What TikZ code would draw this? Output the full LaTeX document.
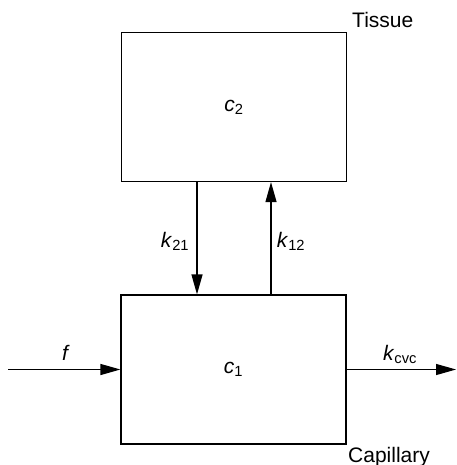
\documentclass[tikz,border=0pt]{standalone}
\usepackage{fontspec}
\setmainfont{Liberation Sans}
\usetikzlibrary{arrows.meta}
\begin{document}
\begin{tikzpicture}[x=1pt,y=-1pt,
  box/.style={draw,line width=1.2pt,minimum width=225pt,minimum height=149pt,inner sep=0pt,font=\fontsize{21}{24}\selectfont},
  lbl/.style={font=\fontsize{21}{24}\selectfont,inner sep=0pt,anchor=base},
  arr/.style={line width=1.2pt,-{Triangle[length=20pt,width=11pt]}}]
\useasboundingbox (0,0) rectangle (456,465);
\node[box] (tis) at (234,107) {\textit{c}\textsubscript{2}};
\node[box] (cap) at (233.5,369.5) {\textit{c}\textsubscript{1}};
\coordinate (in) at (8,369.5);
\coordinate (out) at (456,369.5);
\draw[arr] ([xshift=-37pt]tis.south) -- ([xshift=-36.5pt]cap.north);
\draw[arr] ([xshift=37.5pt]cap.north) -- ([xshift=37pt]tis.south);
\draw[arr] (in) -- (cap.west);
\draw[arr] (cap.east) -- (out);
\node[lbl] (f) at (66,360) {\textit{f}};
\node[lbl] (kcvc) at (400,360) {\textit{k}\textsubscript{cvc}};
\node[lbl] (k21) at (175,247) {\textit{k}\textsubscript{21}};
\node[lbl] (k12) at (291,247) {\textit{k}\textsubscript{12}};
\node[lbl,anchor=base west] (tissue) at (352,28) {Tissue};
\node[lbl,anchor=base west] (capl) at (348,462) {Capillary};
\end{tikzpicture}
\end{document}
